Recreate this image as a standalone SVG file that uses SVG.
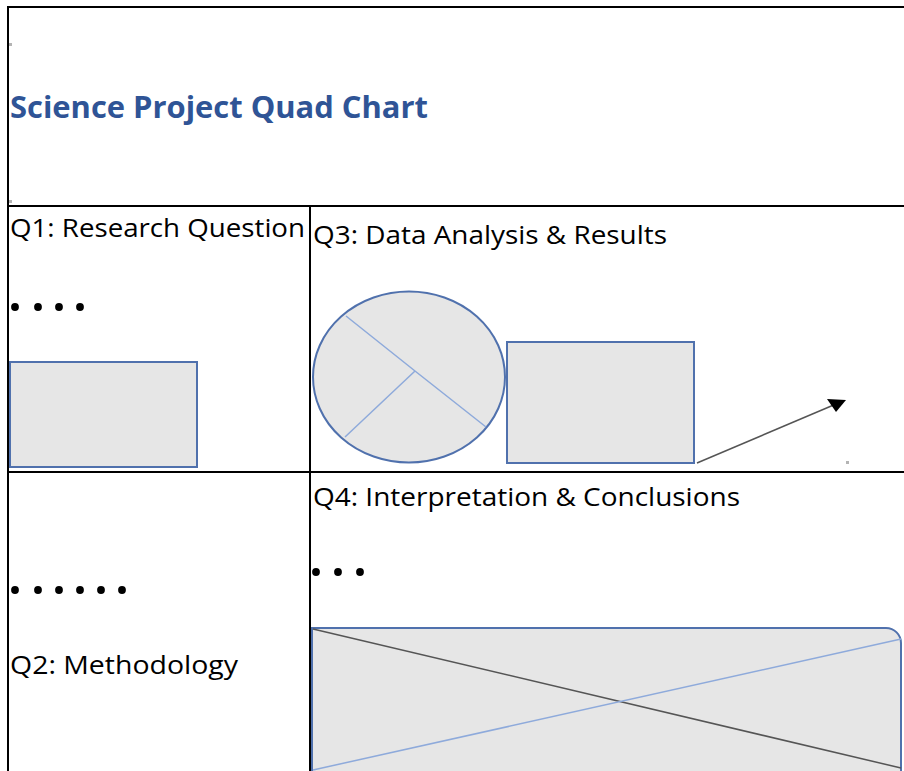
<svg xmlns="http://www.w3.org/2000/svg" width="904" height="771" viewBox="0 0 904 771">
<defs>
<style>
.grid{stroke:#000;stroke-width:2;fill:none}
.lbl{font-family:"Open Sans","Liberation Sans",sans-serif;font-size:25px;fill:#000}
.title{font-family:"Open Sans","Liberation Sans",sans-serif;font-size:31px;font-weight:bold;fill:#2F5496}
.shape{fill:#e6e6e6;stroke:#5071ad;stroke-width:2}
.inner{stroke:#8eaadb;stroke-width:1.5;fill:none}
.dot{fill:#000}
.handle{fill:#b4b4b4}
</style>
<marker id="ah" markerUnits="userSpaceOnUse" orient="0" viewBox="-10 -6 21 15" markerWidth="21" markerHeight="15" refX="0" refY="0">
<path d="M-9,-5 L10,-4 L0,8 Z" fill="#000"/>
</marker>
</defs>
<rect width="904" height="771" fill="#fff"/>

<g id="table">
<line class="grid" x1="7" y1="7" x2="904" y2="7"/>
<line class="grid" x1="8" y1="6" x2="8" y2="771"/>
<line class="grid" x1="8" y1="206" x2="904" y2="206"/>
<line class="grid" x1="8" y1="472" x2="904" y2="472"/>
<line class="grid" x1="310" y1="206" x2="310" y2="771"/>
<rect class="handle" x="9" y="43" width="3" height="3"/>
<rect class="handle" x="9" y="200" width="3" height="3" fill="#ccc"/>
</g>

<g id="title">
<text class="title" x="10" y="118" textLength="418" lengthAdjust="spacingAndGlyphs">Science Project Quad Chart</text>
</g>

<g id="q1">
<text class="lbl" x="10" y="237" textLength="295" lengthAdjust="spacingAndGlyphs">Q1: Research Question</text>
<circle class="dot" cx="15" cy="307" r="3.9"/>
<circle class="dot" cx="38" cy="307" r="3.9"/>
<circle class="dot" cx="59" cy="307" r="3.9"/>
<circle class="dot" cx="80" cy="307" r="3.9"/>
<rect class="shape" x="10" y="362" width="187" height="105"/>
</g>

<g id="q3">
<text class="lbl" x="313" y="244" textLength="354" lengthAdjust="spacingAndGlyphs">Q3: Data Analysis &amp; Results</text>
<ellipse class="shape" cx="409" cy="377" rx="96" ry="85.5"/>
<polyline class="inner" points="346,316 415,371 486,427"/>
<line class="inner" x1="415" y1="371" x2="345" y2="437"/>
<rect class="shape" x="507" y="342" width="187" height="121"/>
<rect class="handle" x="846" y="461" width="3" height="3"/>
</g>

<g id="q2">
<circle class="dot" cx="15" cy="590" r="3.9"/>
<circle class="dot" cx="38" cy="590" r="3.9"/>
<circle class="dot" cx="59" cy="590" r="3.9"/>
<circle class="dot" cx="80" cy="590" r="3.9"/>
<circle class="dot" cx="101" cy="590" r="3.9"/>
<circle class="dot" cx="122" cy="590" r="3.9"/>
<text class="lbl" x="10" y="674" textLength="228" lengthAdjust="spacingAndGlyphs">Q2: Methodology</text>
</g>

<g id="q4">
<text class="lbl" x="313" y="506" textLength="427" lengthAdjust="spacingAndGlyphs">Q4: Interpretation &amp; Conclusions</text>
<circle class="dot" cx="316" cy="572" r="3.9"/>
<circle class="dot" cx="338" cy="572" r="3.9"/>
<circle class="dot" cx="360" cy="572" r="3.9"/>
<path class="shape" d="M312,628 H886 A15,15 0 0 1 901,643 V790 H312 Z"/>
<line x1="313" y1="629" x2="901" y2="768" stroke="#555" stroke-width="1.5"/>
<line class="inner" x1="313" y1="770" x2="901" y2="639"/>
</g>

<g id="connectors">
<line x1="697" y1="463" x2="836" y2="404" stroke="#555" stroke-width="1.5" marker-end="url(#ah)"/>
</g>
</svg>
